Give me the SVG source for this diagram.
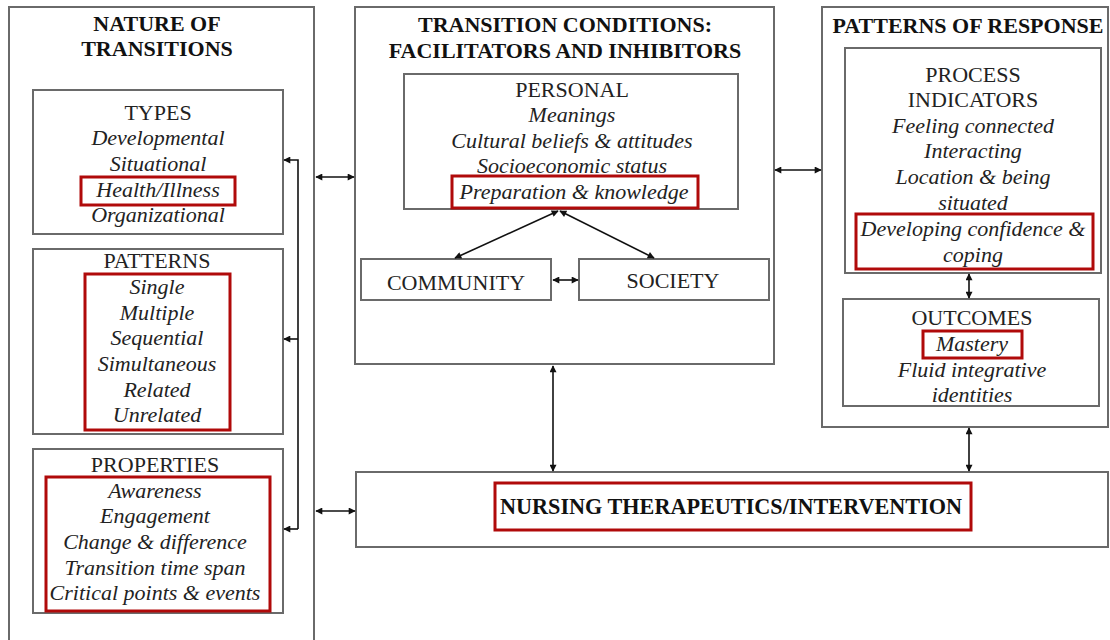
<svg xmlns="http://www.w3.org/2000/svg" width="1110" height="640" viewBox="0 0 1110 640">
<defs>
<marker id="ah" viewBox="0 0 10 10" refX="9" refY="5" markerWidth="9" markerHeight="7" markerUnits="userSpaceOnUse" orient="auto-start-reverse">
<path d="M0,0 L10,5 L0,10 Z" fill="#111"/>
</marker>
</defs>
<style>
.box{fill:#fff;stroke:#6a6a6a;stroke-width:2}
.red{fill:none;stroke:#b00a0a;stroke-width:3}
.t{font-family:"Liberation Serif","Times New Roman",serif;font-size:22px;fill:#222;text-anchor:middle}
.b{font-weight:bold;fill:#111}
.i{font-style:italic}
.c{fill:none;stroke:#111;stroke-width:1.6}
</style>
<rect width="1110" height="640" fill="#fff"/>

<g id="nature">
<rect class="box" x="9" y="7" width="305" height="650"/>
<text class="t b" x="157" y="31">NATURE OF</text>
<text class="t b" x="157" y="56">TRANSITIONS</text>
</g>

<g id="types">
<rect class="box" x="33" y="90" width="250" height="144"/>
<text class="t" x="158" y="120">TYPES</text>
<text class="t i" x="158" y="145">Developmental</text>
<text class="t i" x="158" y="171">Situational</text>
<text class="t i" x="158" y="197">Health/Illness</text>
<text class="t i" x="158" y="222">Organizational</text>
<rect class="red" x="81" y="177" width="154" height="28"/>
</g>

<g id="patterns">
<rect class="box" x="33" y="249" width="250" height="185"/>
<text class="t" x="157" y="268">PATTERNS</text>
<rect class="red" x="85" y="274" width="145" height="156"/>
<text class="t i" x="157" y="294">Single</text>
<text class="t i" x="157" y="320">Multiple</text>
<text class="t i" x="157" y="345">Sequential</text>
<text class="t i" x="157" y="371">Simultaneous</text>
<text class="t i" x="157" y="397">Related</text>
<text class="t i" x="157" y="422">Unrelated</text>
</g>

<g id="properties">
<rect class="box" x="33" y="449" width="250" height="164"/>
<text class="t" x="155" y="472">PROPERTIES</text>
<rect class="red" x="46" y="477" width="224" height="134"/>
<text class="t i" x="155" y="498">Awareness</text>
<text class="t i" x="155" y="523">Engagement</text>
<text class="t i" x="155" y="549">Change &amp; difference</text>
<text class="t i" x="155" y="575">Transition time span</text>
<text class="t i" x="155" y="600">Critical points &amp; events</text>
</g>

<g id="conditions">
<rect class="box" x="355" y="7" width="419" height="357"/>
<text class="t b" x="565" y="32">TRANSITION CONDITIONS:</text>
<text class="t b" x="565" y="58">FACILITATORS AND INHIBITORS</text>
</g>

<g id="personal">
<rect class="box" x="404" y="74" width="334" height="135"/>
<text class="t" x="572" y="97">PERSONAL</text>
<text class="t i" x="572" y="122">Meanings</text>
<text class="t i" x="572" y="148">Cultural beliefs &amp; attitudes</text>
<text class="t i" x="572" y="173">Socioeconomic status</text>
<text class="t i" x="574" y="199">Preparation &amp; knowledge</text>
<rect class="red" x="452" y="176" width="246" height="32"/>
</g>

<g id="community">
<rect class="box" x="361" y="259" width="190" height="41"/>
<text class="t" x="456" y="290">COMMUNITY</text>
</g>

<g id="society">
<rect class="box" x="579" y="259" width="190" height="41"/>
<text class="t" x="673" y="288">SOCIETY</text>
</g>

<g id="response">
<rect class="box" x="822" y="7" width="286" height="420"/>
<text class="t b" x="968" y="33">PATTERNS OF RESPONSE</text>
</g>

<g id="process">
<rect class="box" x="845" y="48" width="256" height="225"/>
<text class="t" x="973" y="82">PROCESS</text>
<text class="t" x="973" y="107">INDICATORS</text>
<text class="t i" x="973" y="133">Feeling connected</text>
<text class="t i" x="973" y="158">Interacting</text>
<text class="t i" x="973" y="184">Location &amp; being</text>
<text class="t i" x="973" y="210">situated</text>
<text class="t i" x="973" y="236">Developing confidence &amp;</text>
<text class="t i" x="973" y="262">coping</text>
<rect class="red" x="856" y="214" width="237" height="55"/>
</g>

<g id="outcomes">
<rect class="box" x="843" y="299" width="256" height="107"/>
<text class="t" x="972" y="325">OUTCOMES</text>
<rect class="red" x="923" y="331" width="99" height="27"/>
<text class="t i" x="972" y="351">Mastery</text>
<text class="t i" x="972" y="377">Fluid integrative</text>
<text class="t i" x="972" y="402">identities</text>
</g>

<g id="nursing">
<rect class="box" x="356" y="472" width="752" height="75"/>
<rect class="red" x="495" y="483" width="476" height="47"/>
<text class="t b" x="731" y="514" style="font-size:23px" textLength="462" lengthAdjust="spacingAndGlyphs">NURSING THERAPEUTICS/INTERVENTION</text>
</g>

<g id="connectors">
<polyline class="c" points="298,529 298,160 284,160" marker-end="url(#ah)"/>
<line class="c" x1="298" y1="339" x2="284" y2="339" marker-end="url(#ah)"/>
<line class="c" x1="298" y1="529" x2="284" y2="529" marker-end="url(#ah)"/>
<line class="c" x1="316" y1="177" x2="354" y2="177" marker-start="url(#ah)" marker-end="url(#ah)"/>
<line class="c" x1="316" y1="511" x2="355" y2="511" marker-start="url(#ah)" marker-end="url(#ah)"/>
<line class="c" x1="775" y1="170" x2="821" y2="170" marker-start="url(#ah)" marker-end="url(#ah)"/>
<line class="c" x1="558" y1="211" x2="455" y2="258" marker-start="url(#ah)" marker-end="url(#ah)"/>
<line class="c" x1="560" y1="211" x2="654" y2="258" marker-start="url(#ah)" marker-end="url(#ah)"/>
<line class="c" x1="553" y1="280" x2="578" y2="280" marker-start="url(#ah)" marker-end="url(#ah)"/>
<line class="c" x1="969" y1="274" x2="969" y2="298" marker-start="url(#ah)" marker-end="url(#ah)"/>
<line class="c" x1="553" y1="366" x2="553" y2="471" marker-start="url(#ah)" marker-end="url(#ah)"/>
<line class="c" x1="969" y1="428" x2="969" y2="471" marker-start="url(#ah)" marker-end="url(#ah)"/>
</g>
</svg>
